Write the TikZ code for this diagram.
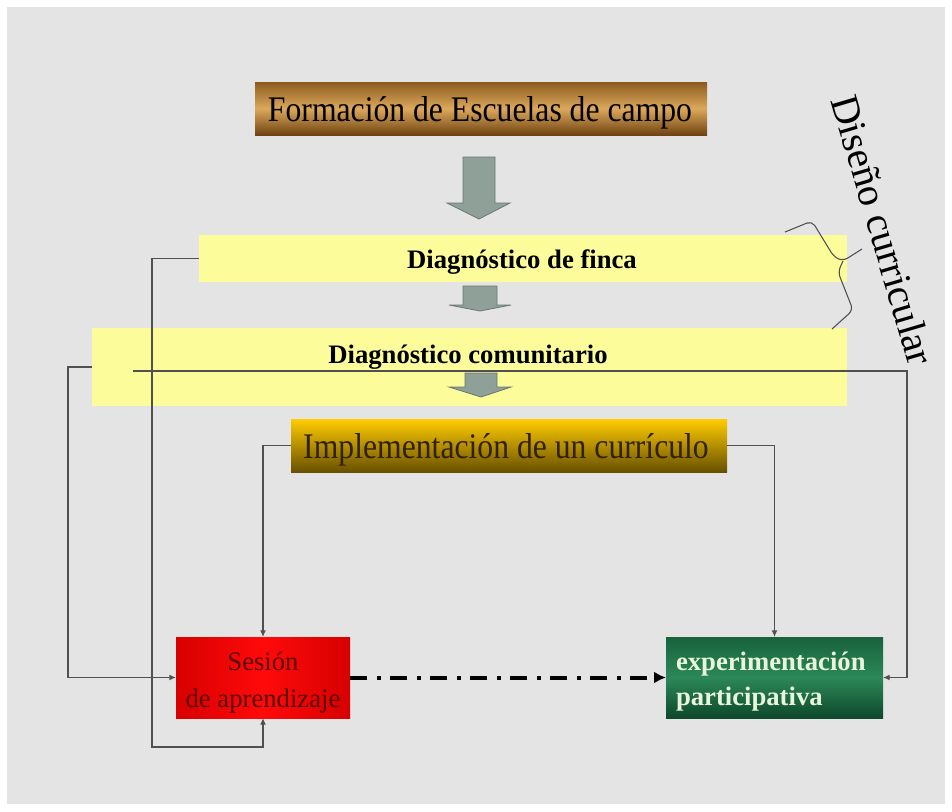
\documentclass[tikz,border=0pt]{standalone}
\usepackage{fontspec}
\setmainfont{Liberation Serif}
\newfontfamily\narrowserif[FakeStretch=0.88]{Liberation Serif}
\usetikzlibrary{arrows.meta}

\definecolor{bggray}{RGB}{228,228,228}
\definecolor{browntop}{RGB}{140,90,30}
\definecolor{brownmid}{RGB}{220,168,92}
\definecolor{brownbot}{RGB}{112,68,18}
\definecolor{paleyellow}{RGB}{252,252,155}
\definecolor{goldtop}{RGB}{255,204,0}
\definecolor{goldbot}{RGB}{104,80,0}
\definecolor{redmid}{RGB}{255,10,10}
\definecolor{rededge}{RGB}{215,0,0}
\definecolor{greentop}{RGB}{24,98,60}
\definecolor{greenmid}{RGB}{44,136,88}
\definecolor{greenbot}{RGB}{14,72,44}
\definecolor{linegray}{RGB}{80,80,80}
\definecolor{arrowfill}{RGB}{143,160,152}
\definecolor{arrowedge}{RGB}{105,120,113}

\tikzset{
  box/.style={rectangle, inner sep=0pt, outer sep=0pt},
  label/.style={inner sep=0pt, outer sep=0pt},
  conn/.style={draw=linegray, line width=1pt},
  tip/.style={-{Latex[length=5pt,width=4.5pt]}},
  blockarrow/.style={fill=arrowfill, draw=arrowedge, line width=0.6pt},
  brace/.style={draw=linegray, line width=0.8pt, rounded corners=4pt},
}

\begin{document}
\begin{tikzpicture}[x=0.75pt,y=0.75pt,yscale=-1,xscale=1]
\useasboundingbox (0,0) rectangle (952,811);
%Background
\fill [white] (0,0) rectangle (952,811);
\fill [bggray] (7,7) rectangle (945,804);

%Shape: Rectangle [Formacion]
\node (escuelas) [box, minimum width=339pt, minimum height=39.75pt, top color=browntop, bottom color=brownbot, middle color=brownmid] at (481,108.5) {};
%Shape: Rectangle [finca]
\node (finca) [box, minimum width=486pt, minimum height=35.25pt, fill=paleyellow] at (523,258.5) {};
%Shape: Rectangle [comunitario]
\node (comunitario) [box, minimum width=566.25pt, minimum height=58.5pt, fill=paleyellow] at (469.5,367) {};
%Shape: Rectangle [curriculo]
\node (curriculo) [box, minimum width=327pt, minimum height=39.75pt, top color=goldtop, bottom color=goldbot] at (509,445.5) {};
%Shape: Rectangle [sesion]
\node (sesion) [box, minimum width=130.5pt, minimum height=60.75pt, left color=rededge, right color=rededge, middle color=redmid] at (263,677.5) {};
%Shape: Rectangle [experimentacion]
\node (experimentacion) [box, minimum width=162.75pt, minimum height=60.75pt, top color=greentop, bottom color=greenbot, middle color=greenmid] at (774.5,677.5) {};

%Shape: Block Arrows
\draw [blockarrow] (463,157) -- (495,157) -- (495,203) -- (510,203) -- (479,219) -- (447,203) -- (463,203) -- cycle ;
\draw [blockarrow] (463,286) -- (497,286) -- (497,305) -- (511,305) -- (480,311) -- (449,305) -- (463,305) -- cycle ;
\draw [blockarrow] (465,373) -- (497,373) -- (497,387) -- (511,387) -- (481,397) -- (449,387) -- (465,387) -- cycle ;

% Text Node
\node (escuelastxt) [label, anchor=base, font=\narrowserif\fontsize{27}{32}\selectfont] at (480,121) {Formación de Escuelas de campo};
% Text Node
\node (fincatxt) [label, anchor=base, font=\bfseries\fontsize{20}{24}\selectfont] at (522,268) {Diagnóstico de finca};
% Text Node
\node (comunitariotxt) [label, anchor=base, font=\bfseries\fontsize{20}{24}\selectfont] at (468,363) {Diagnóstico comunitario};
% Text Node
\node (curriculotxt) [label, anchor=base, text={rgb,255:red,48;green,34;blue,0}, font=\narrowserif\fontsize{27}{32}\selectfont] at (506,458) {Implementación de un currículo};
% Text Node
\node (sesiontxt) [label, anchor=base, text={rgb,255:red,90;green,8;blue,0}, font=\fontsize{20}{24}\selectfont] at (263,670) {Sesión};
% Text Node
\node (aprendizajetxt) [label, anchor=base, text={rgb,255:red,90;green,8;blue,0}, font=\fontsize{20}{24}\selectfont] at (263,707) {de aprendizaje};
% Text Node
\node (experimentaciontxt) [label, anchor=base west, text={rgb,255:red,232;green,244;blue,220}, font=\bfseries\fontsize{20}{24}\selectfont] at (676,670) {experimentación};
% Text Node
\node (participativatxt) [label, anchor=base west, text={rgb,255:red,232;green,244;blue,220}, font=\bfseries\fontsize{20}{24}\selectfont] at (676,705) {participativa};
% Text Node
\node (diseno) [label, rotate=-73.5, font=\fontsize{30}{36}\selectfont] at (883,230) {Diseño curricular};

%Curly Brace
\draw [brace] (785,232) -- (812,221) -- (834,257) -- (843,261) -- (862,249) ;
\draw [brace] (843,261) -- (838,272) -- (853,310) -- (832,329) ;

%Connectors
\coordinate (inner) at (133,371);
\draw [conn, tip] (comunitario.west) -- (68,367) |- (sesion.west) ;
\draw [conn, tip] (finca.west) -- (152,258.5) |- (263,747) -- (sesion.south) ;
\draw [conn, tip] (curriculo.west) -| (sesion.north) ;
\draw [conn, tip] (curriculo.east) -| (experimentacion.north) ;
\draw [conn, tip] (inner) -- (907,371) |- (experimentacion.east) ;
\draw [line width=3pt, dash pattern=on 13pt off 7pt on 3pt off 7pt, -{Latex[length=9pt,width=9pt]}] (sesion.east) -- (experimentacion.west) ;

\end{tikzpicture}
\end{document}
